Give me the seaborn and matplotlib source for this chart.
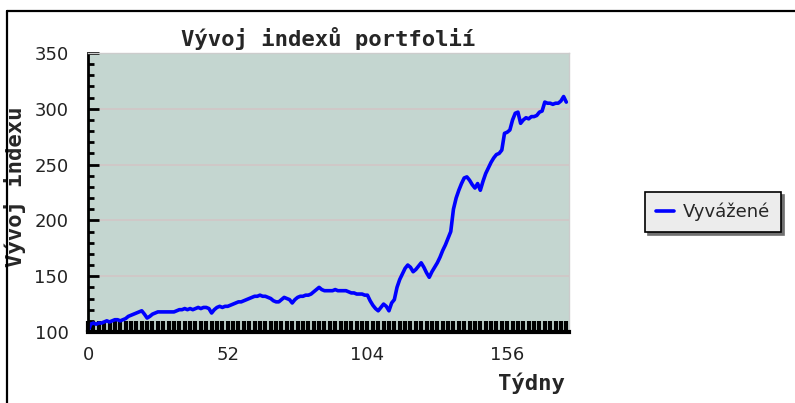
import numpy as np
import pandas as pd
import seaborn as sns
import matplotlib.pyplot as plt
from matplotlib.lines import Line2D
from matplotlib.ticker import MultipleLocator

# weekly index values (week 0 .. 178)
index_values = [
    100, 107, 108, 107, 108, 108, 109, 110, 109, 110,
    111, 111, 110, 111, 112, 114, 115, 116, 117, 118,
    119, 116, 112.5, 114, 116, 117, 118, 118, 118, 118,
    118, 118, 118, 119, 120, 120, 121, 120, 121, 120,
    121, 122, 121, 122, 122, 121, 117, 120, 122, 123,
    122, 123, 123, 124, 125, 126, 127, 127, 128, 129,
    130, 131, 132, 132, 133, 132, 132, 131, 130, 128,
    127, 127, 129, 131, 130, 129, 126, 129, 131, 132,
    132, 133, 133, 134, 136, 138, 140, 138, 137, 137,
    137, 137, 138, 137, 137, 137, 137, 136, 135, 135,
    134, 134, 134, 133, 133, 128, 124, 121, 119, 122,
    125, 123, 119, 126, 129, 140, 147, 152, 157, 160,
    158, 154, 156, 159, 162, 158, 153, 149, 154, 158,
    162, 167, 173, 178, 184, 190, 210, 220, 227, 233,
    238, 239, 236, 232, 229, 233, 227, 235, 242, 247,
    252, 256, 259, 260, 263, 278, 279, 281, 290, 296,
    297, 287, 290, 292, 291, 293, 293, 294, 297, 298,
    306, 305, 305, 304, 305, 305, 307, 311, 306,
]
weeks = np.arange(len(index_values))
series_name = "Vyvážené"
x_ticks = [0, 52, 104, 156]
y_ticks = [100, 150, 200, 250, 300, 350]

df = pd.DataFrame({"Týdny": weeks, "index": index_values, "portfolio": series_name})

sns.set_theme(style="white")
plt.rcParams["font.family"] = ["DejaVu Sans"]

fig = plt.figure(figsize=(7.95, 4.03), dpi=100)
ax = fig.add_axes([0.1107, 0.1762, 0.605, 0.6923])
ax.set_facecolor("#c4d6d0")

sns.lineplot(data=df, x="Týdny", y="index", hue="portfolio",
             palette=["#0000ff"], linewidth=2.6, ax=ax)

ax.set_xlim(0, 179)
ax.set_ylim(100, 350)
ax.set_xticks(x_ticks)
ax.set_yticks(y_ticks)
ax.xaxis.set_minor_locator(MultipleLocator(2))
ax.yaxis.set_minor_locator(MultipleLocator(10))

for y in y_ticks[1:-1]:
    ax.axhline(y, color="#d2c6c6", linewidth=1.2, zorder=0.5)

ax.tick_params(axis="x", which="major", bottom=True, direction="in", length=8, width=3.0,
               color="black", labelsize=13, labelcolor="#222222", pad=10)
ax.tick_params(axis="x", which="minor", bottom=True, direction="in", length=8, width=3.0,
               color="black")
ax.tick_params(axis="y", which="major", left=True, direction="in", length=8, width=2,
               color="black", labelsize=13, labelcolor="#222222", pad=14)
ax.tick_params(axis="y", which="minor", left=True, direction="in", length=4, width=2,
               color="black")

for side in ["top", "right"]:
    ax.spines[side].set_color("#cccccc")
    ax.spines[side].set_linewidth(1)
ax.spines["left"].set_color("black")
ax.spines["left"].set_linewidth(2)
ax.spines["bottom"].set_color("black")
ax.spines["bottom"].set_linewidth(3)

mono = {"family": "DejaVu Sans Mono", "weight": "bold", "size": 16}
ax.set_title("Vývoj indexů portfolií", fontdict=mono, pad=5)
ax.set_ylabel("Vývoj indexu", fontdict=mono)
ax.yaxis.set_label_coords(-0.128, 0.52)
ax.set_xlabel("Týdny", fontdict=mono, loc="right")
ax.xaxis.set_label_coords(0.992, -0.145)

leg = ax.legend(loc="center left", bbox_to_anchor=(0.80, 0.474),
                bbox_transform=fig.transFigure, frameon=True, fancybox=False,
                shadow={"color": "#707070", "alpha": 1}, fontsize=13,
                handlelength=1.0, handletextpad=0.5, borderpad=0.6, edgecolor="black")
leg.get_frame().set_facecolor("#ececec")
leg.get_frame().set_linewidth(1.2)

# outer frame lines of the original image
fig.add_artist(Line2D([7 / 795, 1], [1 - 11 / 403, 1 - 11 / 403], color="black", linewidth=1.6))
fig.add_artist(Line2D([7 / 795, 7 / 795], [0, 1 - 11 / 403], color="black", linewidth=1.6))

plt.savefig("out.png", dpi=100)
